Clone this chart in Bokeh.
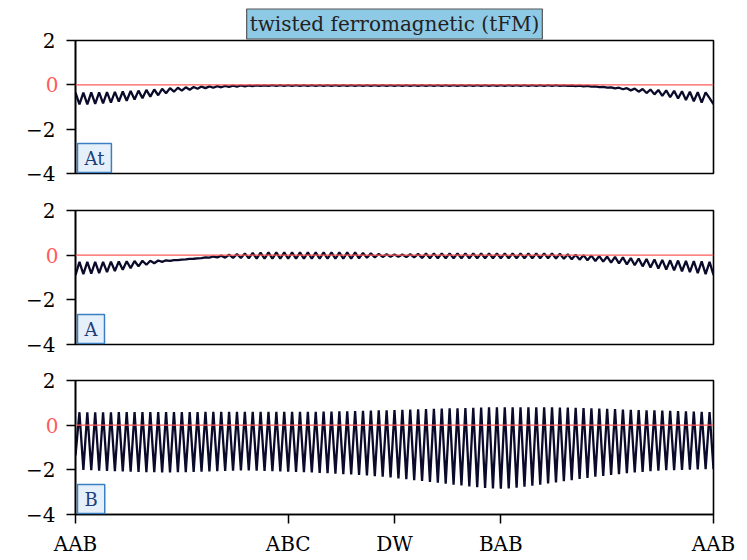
from bokeh.plotting import figure
from bokeh.models import Label, Range1d, FixedTicker, Span, LinearAxis
from bokeh.layouts import column
from bokeh.embed import file_html
from bokeh.resources import INLINE

# ---------------- data ----------------
n_sites = 163
site = list(range(n_sites))
x_tick_sites = [0, 54, 81, 108, 162]
x_tick_labels = ["AAB", "ABC", "DW", "BAB", "AAB"]
y_ticks = [-4, -2, 0, 2]
y_tick_labels = ["\u22124", "\u22122", "0", "2"]
panel_names = ["At", "A", "B"]
title_text = "twisted ferromagnetic (tFM)"

At_vals = [
    -0.35, -0.88, -0.35, -0.88, -0.34, -0.86, -0.34, -0.84, -0.33, -0.80,
    -0.32, -0.76, -0.30, -0.72, -0.28, -0.66, -0.26, -0.60, -0.23, -0.53,
    -0.21, -0.47, -0.18, -0.38, -0.15, -0.31, -0.13, -0.26, -0.11, -0.22,
    -0.10, -0.18, -0.08, -0.15, -0.07, -0.13, -0.06, -0.11, -0.05, -0.09,
    -0.04, -0.08, -0.03, -0.07, -0.03, -0.06, -0.02, -0.05, -0.02, -0.05,
    -0.01, -0.05, -0.01, -0.05, -0.01, -0.05, -0.01, -0.05, -0.01, -0.05,
    -0.01, -0.05, -0.01, -0.05, -0.01, -0.05, -0.01, -0.05, -0.01, -0.05,
    -0.01, -0.05, -0.01, -0.05, -0.01, -0.05, -0.01, -0.05, -0.01, -0.05,
    -0.01, -0.05, -0.01, -0.05, -0.01, -0.05, -0.01, -0.05, -0.01, -0.05,
    -0.01, -0.05, -0.01, -0.05, -0.01, -0.05, -0.01, -0.05, -0.01, -0.05,
    -0.01, -0.05, -0.01, -0.05, -0.01, -0.05, -0.01, -0.05, -0.01, -0.05,
    -0.01, -0.05, -0.01, -0.05, -0.01, -0.05, -0.01, -0.05, -0.01, -0.05,
    -0.01, -0.05, -0.01, -0.05, -0.02, -0.05, -0.03, -0.06, -0.04, -0.07,
    -0.05, -0.08, -0.07, -0.10, -0.09, -0.13, -0.11, -0.16, -0.13, -0.20,
    -0.15, -0.25, -0.17, -0.31, -0.19, -0.37, -0.21, -0.43, -0.23, -0.50,
    -0.25, -0.56, -0.27, -0.62, -0.29, -0.68, -0.31, -0.74, -0.33, -0.80,
    -0.34, -0.60, -0.87,
]

A_vals = [
    -0.90, -0.30, -0.85, -0.30, -0.83, -0.30, -0.80, -0.30, -0.76, -0.29,
    -0.71, -0.28, -0.65, -0.27, -0.58, -0.26, -0.50, -0.25, -0.43, -0.25,
    -0.36, -0.24, -0.30, -0.23, -0.26, -0.22, -0.22, -0.20, -0.19, -0.17,
    -0.16, -0.14, -0.13, -0.10, -0.11, -0.06, -0.10, -0.02, -0.11, 0.02,
    -0.12, 0.05, -0.13, 0.08, -0.14, 0.10, -0.15, 0.11, -0.16, 0.12,
    -0.16, 0.12, -0.16, 0.12, -0.16, 0.12, -0.16, 0.12, -0.16, 0.12,
    -0.16, 0.12, -0.16, 0.12, -0.16, 0.12, -0.16, 0.12, -0.16, 0.12,
    -0.16, 0.12, -0.14, 0.10, -0.12, 0.08, -0.10, 0.06, -0.08, 0.04,
    -0.07, 0.03, -0.07, 0.03, -0.08, 0.04, -0.10, 0.06, -0.12, 0.07,
    -0.14, 0.08, -0.14, 0.08, -0.14, 0.08, -0.14, 0.08, -0.14, 0.08,
    -0.14, 0.08, -0.14, 0.08, -0.14, 0.08, -0.14, 0.08, -0.14, 0.08,
    -0.14, 0.08, -0.14, 0.08, -0.14, 0.08, -0.14, 0.08, -0.14, 0.08,
    -0.14, 0.08, -0.15, 0.06, -0.16, 0.04, -0.18, 0.02, -0.20, 0.00,
    -0.23, -0.02, -0.26, -0.04, -0.29, -0.06, -0.33, -0.08, -0.37, -0.10,
    -0.41, -0.13, -0.45, -0.15, -0.50, -0.17, -0.55, -0.19, -0.60, -0.21,
    -0.64, -0.23, -0.68, -0.24, -0.72, -0.26, -0.76, -0.27, -0.80, -0.28,
    -0.85, -0.30, -0.88,
]

B_vals = [
    -1.35, 0.58, -2.00, 0.58, -2.02, 0.58, -2.04, 0.58, -2.05, 0.58,
    -2.06, 0.59, -2.07, 0.59, -2.08, 0.59, -2.09, 0.59, -2.10, 0.59,
    -2.11, 0.59, -2.12, 0.59, -2.12, 0.59, -2.11, 0.59, -2.10, 0.59,
    -2.09, 0.59, -2.08, 0.60, -2.07, 0.60, -2.06, 0.60, -2.05, 0.60,
    -2.04, 0.60, -2.03, 0.60, -2.03, 0.60, -2.04, 0.60, -2.05, 0.60,
    -2.06, 0.60, -2.07, 0.60, -2.08, 0.60, -2.09, 0.60, -2.11, 0.60,
    -2.12, 0.60, -2.14, 0.61, -2.15, 0.61, -2.17, 0.62, -2.19, 0.62,
    -2.21, 0.63, -2.23, 0.64, -2.25, 0.65, -2.28, 0.66, -2.31, 0.67,
    -2.34, 0.68, -2.38, 0.69, -2.42, 0.70, -2.46, 0.71, -2.50, 0.72,
    -2.54, 0.73, -2.58, 0.74, -2.62, 0.75, -2.66, 0.76, -2.70, 0.77,
    -2.74, 0.78, -2.78, 0.79, -2.81, 0.80, -2.83, 0.80, -2.84, 0.80,
    -2.83, 0.80, -2.80, 0.80, -2.76, 0.80, -2.71, 0.80, -2.66, 0.80,
    -2.61, 0.80, -2.56, 0.79, -2.51, 0.79, -2.46, 0.78, -2.41, 0.77,
    -2.36, 0.76, -2.31, 0.74, -2.27, 0.73, -2.23, 0.72, -2.19, 0.70,
    -2.15, 0.69, -2.12, 0.68, -2.09, 0.67, -2.06, 0.66, -2.04, 0.65,
    -2.02, 0.64, -2.01, 0.63, -2.00, 0.62, -1.99, 0.61, -1.98, 0.60,
    -1.97, 0.59, -1.97,
]

series = [At_vals, A_vals, B_vals]

# ---------------- style ----------------
FONT = "DejaVu Serif"
LINE_COLOR = "#0a0a2a"
ZERO_COLOR = "#ff5a5a"

heights = [192, 170, 196]
tops = [40, 18, 18]
bottoms = [19, 18, 44]

figs = []
for idx, (vals, name) in enumerate(zip(series, panel_names)):
    last = idx == len(series) - 1
    p = figure(width=745, height=heights[idx],
               x_range=Range1d(site[0], site[-1]), y_range=Range1d(-4, 2),
               output_backend="svg", toolbar_location=None,
               min_border_left=75, min_border_right=32,
               min_border_top=tops[idx], min_border_bottom=bottoms[idx])
    p.xgrid.visible = False
    p.ygrid.visible = False
    p.outline_line_color = "black"
    p.outline_line_width = 1.6
    p.background_fill_color = "white"
    p.border_fill_color = "white"

    # inner y axis: all tick marks, only the red "0" label
    p.yaxis.ticker = FixedTicker(ticks=y_ticks)
    p.yaxis.major_label_overrides = {t: (l if t == 0 else "") for t, l in zip(y_ticks, y_tick_labels)}
    p.yaxis.major_label_text_font = FONT
    p.yaxis.major_label_text_font_size = "20px"
    p.yaxis.major_label_text_color = ZERO_COLOR
    p.yaxis.major_tick_in = 0
    p.yaxis.major_tick_out = 9
    p.yaxis.major_tick_line_width = 1.5
    p.yaxis.minor_tick_line_color = None
    p.yaxis.axis_line_width = 1.6
    p.yaxis.major_label_standoff = 8

    # outer y axis: black labels for the other ticks, pulled back next to the ticks
    black_ticks = [t for t in y_ticks if t != 0]
    outer = LinearAxis(ticker=FixedTicker(ticks=black_ticks),
                       major_label_overrides={t: l for t, l in zip(y_ticks, y_tick_labels) if t != 0},
                       axis_line_color=None, major_tick_line_color=None,
                       minor_tick_line_color=None,
                       major_tick_in=0, major_tick_out=0,
                       major_label_standoff=-13,
                       major_label_text_font=FONT,
                       major_label_text_font_size="20px",
                       major_label_text_color="black")
    p.add_layout(outer, "left")

    # x axis
    if last:
        p.xaxis.ticker = FixedTicker(ticks=x_tick_sites)
        p.xaxis.major_label_overrides = {t: l for t, l in zip(x_tick_sites, x_tick_labels)}
        p.xaxis.major_label_text_font = FONT
        p.xaxis.major_label_text_font_size = "20px"
        p.xaxis.major_label_text_color = "black"
        p.xaxis.major_tick_in = 0
        p.xaxis.major_tick_out = 9
        p.xaxis.major_tick_line_width = 1.5
        p.xaxis.minor_tick_line_color = None
        p.xaxis.axis_line_width = 1.6
        p.xaxis.major_label_standoff = 8
    else:
        p.xaxis.visible = False

    p.line(site, vals, line_color=LINE_COLOR, line_width=2.3)
    p.add_layout(Span(location=0, dimension="width", line_color=ZERO_COLOR, line_width=1.4))

    # panel name box
    p.add_layout(Label(x=2, y=1, x_units="screen", y_units="screen", text=name,
                       text_font=FONT, text_font_size="18px", text_color="#1c3f7a",
                       text_align="left", text_baseline="bottom",
                       background_fill_color="#e6f0fa", border_line_color="#3a7fc1",
                       border_line_width=1.5, padding=(7, 4)))

    if idx == 0:
        p.title.text = title_text
        p.title.align = "center"
        p.title.text_font = FONT
        p.title.text_font_size = "20px"
        p.title.text_font_style = "normal"
        p.title.text_color = "#222222"
        p.title.background_fill_color = "#8ecae6"
        p.title.border_line_color = "#555555"
        p.title.border_line_width = 1.2
        p.title.padding = 3
        p.title.standoff = 3
    figs.append(p)

layout = column(*figs)
open("out.html", "w").write(file_html(layout, INLINE))
